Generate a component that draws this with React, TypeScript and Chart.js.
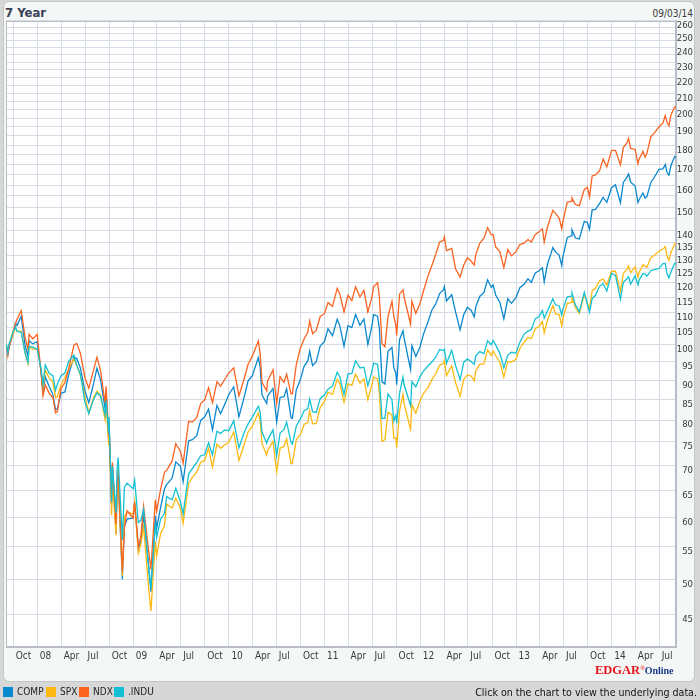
import React, { useEffect, useRef } from 'react';
import { Chart, registerables } from 'chart.js';

Chart.register(...registerables);

// ---------- data (index values, start of period = 100) ----------
const DATES: string[] = [
  '2007-09-04','2007-09-10','2007-09-14','2007-09-28','2007-10-09','2007-10-15','2007-10-31','2007-11-15','2007-11-26','2007-11-30','2007-12-14','2007-12-31',
  '2008-01-15','2008-01-22','2008-01-31','2008-02-15','2008-02-29','2008-03-10','2008-03-17','2008-03-31','2008-04-15','2008-04-30','2008-05-19','2008-05-30','2008-06-13','2008-06-30','2008-07-15','2008-07-31','2008-08-15','2008-08-29','2008-09-15','2008-09-19','2008-09-29','2008-09-30','2008-10-10','2008-10-13','2008-10-27','2008-10-31','2008-11-04','2008-11-20','2008-11-28','2008-12-08','2008-12-31',
  '2009-01-06','2009-01-20','2009-01-30','2009-02-09','2009-02-27','2009-03-09','2009-03-26','2009-03-31','2009-04-15','2009-04-30','2009-05-08','2009-05-29','2009-06-12','2009-06-30','2009-07-10','2009-07-31','2009-08-14','2009-08-31','2009-09-15','2009-09-30','2009-10-15','2009-10-30','2009-11-16','2009-11-30','2009-12-15','2009-12-31',
  '2010-01-19','2010-02-08','2010-02-26','2010-03-15','2010-03-31','2010-04-23','2010-04-30','2010-05-07','2010-05-25','2010-05-28','2010-06-18','2010-07-02','2010-07-15','2010-07-30','2010-08-09','2010-08-26','2010-08-31','2010-09-15','2010-09-30','2010-10-15','2010-10-29','2010-11-05','2010-11-16','2010-11-30','2010-12-15','2010-12-31',
  '2011-01-14','2011-01-31','2011-02-18','2011-02-28','2011-03-16','2011-03-31','2011-04-15','2011-04-29','2011-05-16','2011-05-31','2011-06-15','2011-06-30','2011-07-07','2011-07-22','2011-07-29','2011-08-08','2011-08-19','2011-08-31','2011-09-15','2011-09-22','2011-09-30','2011-10-03','2011-10-14','2011-10-27','2011-10-31','2011-11-25','2011-11-30','2011-12-15','2011-12-30',
  '2012-01-13','2012-01-31','2012-02-15','2012-02-29','2012-03-15','2012-03-30','2012-04-02','2012-04-10','2012-04-30','2012-05-15','2012-06-01','2012-06-15','2012-06-29','2012-07-13','2012-07-25','2012-07-31','2012-08-15','2012-08-31','2012-09-14','2012-09-28','2012-10-05','2012-10-15','2012-10-31','2012-11-15','2012-11-30','2012-12-14','2012-12-31',
  '2013-01-15','2013-01-31','2013-02-15','2013-02-28','2013-03-15','2013-03-28','2013-04-11','2013-04-18','2013-04-30','2013-05-21','2013-05-31','2013-06-14','2013-06-24','2013-06-28','2013-07-15','2013-07-31','2013-08-02','2013-08-15','2013-08-30','2013-09-18','2013-09-30','2013-10-08','2013-10-18','2013-10-31','2013-11-15','2013-11-29','2013-12-13','2013-12-31',
  '2014-01-15','2014-02-03','2014-02-14','2014-02-28','2014-03-06','2014-03-14','2014-03-31','2014-04-11','2014-04-15','2014-04-30','2014-05-08','2014-05-15','2014-05-30','2014-06-13','2014-06-30','2014-07-15','2014-07-24','2014-07-31','2014-08-07','2014-08-15','2014-08-29','2014-09-03',
];

const COMP: number[] = [
  100, 97.3, 98.9, 102.7, 106.5, 105.7, 108.7, 99.6, 96.6, 101.1, 100.2, 100.8,
  91.9, 87.1, 90.8, 88.3, 86.3, 82.5, 82.7, 86.6, 86.9, 91.7, 96.3, 95.9, 93.3, 87.2, 84.2, 88.4, 93.2, 90.0, 82.8, 86.4, 75.4, 79.5, 62.7, 70.1, 57.2, 65.4, 67.7, 50.0, 58.4, 59.7, 59.9,
  62.8, 54.7, 56.1, 60.5, 52.4, 48.2, 60.3, 58.1, 61.8, 65.3, 66.1, 67.4, 70.7, 69.8, 66.7, 75.2, 75.5, 76.4, 79.9, 80.7, 82.6, 77.7, 83.5, 81.5, 83.7, 86.2,
  88.2, 80.8, 85.1, 89.8, 91.2, 96.2, 93.5, 86.1, 84.0, 85.8, 87.8, 79.5, 85.5, 85.7, 87.7, 80.5, 80.4, 87.5, 90.0, 93.8, 95.3, 98.0, 93.9, 95.0, 99.5, 100.8,
  104.7, 102.6, 107.7, 105.7, 99.5, 105.7, 105.1, 109.2, 105.8, 107.8, 100.0, 105.4, 109.2, 108.7, 104.8, 89.6, 89.0, 98.0, 99.1, 93.3, 91.8, 88.8, 101.4, 104.1, 102.0, 92.8, 99.6, 96.5, 99.0,
  103.0, 107.0, 110.8, 112.7, 116.2, 117.5, 118.6, 113.7, 115.8, 110.0, 104.4, 109.2, 111.6, 110.6, 108.5, 111.8, 115.2, 116.6, 121.0, 118.4, 119.2, 115.7, 113.2, 107.8, 114.4, 112.9, 114.8,
  118.2, 119.4, 121.4, 120.1, 123.5, 124.2, 125.4, 120.3, 126.5, 133.1, 131.4, 130.2, 126.2, 129.4, 137.1, 137.8, 140.3, 136.9, 136.5, 143.8, 143.3, 140.5, 148.8, 149.0, 151.5, 154.3, 152.1, 158.8,
  160.2, 151.9, 161.3, 163.8, 165.4, 161.4, 159.6, 152.0, 153.3, 156.4, 154.0, 154.7, 161.3, 163.9, 167.6, 167.9, 170.0, 166.1, 164.8, 169.7, 174.1, 173.8,
];

const SPX: number[] = [
  100, 97.4, 99.6, 102.5, 105.1, 103.9, 104.0, 97.5, 94.5, 99.4, 98.6, 98.6,
  92.7, 88.0, 92.6, 90.6, 89.4, 85.5, 85.7, 88.8, 90.7, 93.1, 95.7, 94.0, 91.3, 85.9, 81.6, 85.1, 87.1, 86.1, 80.1, 84.3, 74.3, 78.3, 60.4, 67.3, 56.9, 65.1, 67.5, 50.5, 60.2, 61.0, 60.6,
  62.8, 54.0, 55.5, 58.4, 49.3, 45.5, 55.9, 53.6, 57.2, 58.6, 62.4, 61.7, 63.5, 61.7, 59.0, 66.3, 67.5, 68.6, 70.6, 71.0, 73.6, 69.6, 74.5, 73.6, 74.3, 74.9,
  77.2, 71.0, 74.1, 77.2, 78.5, 81.7, 79.7, 74.6, 72.1, 73.1, 75.1, 68.6, 73.6, 74.0, 75.7, 70.3, 70.4, 75.5, 76.6, 79.0, 79.4, 82.2, 79.1, 79.2, 83.0, 84.5,
  86.8, 86.3, 90.2, 89.1, 84.3, 89.0, 88.6, 91.6, 89.2, 90.3, 84.9, 88.7, 90.8, 90.3, 86.7, 75.1, 75.5, 81.8, 81.2, 75.8, 75.9, 73.8, 82.2, 86.3, 84.1, 77.8, 83.7, 81.6, 84.5,
  86.5, 88.1, 90.2, 91.7, 94.1, 94.5, 95.3, 91.2, 93.9, 89.3, 85.8, 90.2, 91.4, 91.1, 89.8, 92.6, 94.3, 94.5, 98.4, 96.8, 98.1, 96.7, 94.8, 90.8, 95.1, 94.9, 95.7,
  98.8, 100.6, 102.1, 101.7, 104.8, 105.3, 107.0, 103.5, 107.3, 112.1, 109.5, 109.2, 105.6, 107.8, 112.9, 113.2, 114.8, 111.5, 109.6, 115.8, 112.9, 111.1, 117.2, 118.0, 120.7, 121.3, 119.2, 124.1,
  124.1, 117.0, 123.4, 124.8, 126.0, 123.6, 125.7, 121.9, 123.7, 126.5, 125.9, 125.6, 129.2, 130.1, 131.6, 132.5, 133.5, 129.7, 128.2, 131.3, 134.5, 134.3,
];

const NDX: number[] = [
  100, 96.8, 98.8, 103.3, 106.2, 107.7, 110.5, 102.0, 98.6, 103.0, 101.7, 103.0,
  91.9, 85.9, 88.7, 86.5, 85.5, 81.7, 82.0, 87.9, 89.3, 93.3, 99.8, 100.3, 97.4, 90.7, 87.9, 92.1, 96.3, 92.5, 84.1, 88.4, 76.5, 79.8, 62.7, 70.6, 58.8, 65.9, 69.1, 51.2, 58.3, 61.2, 59.9,
  62.7, 55.1, 56.8, 62.0, 54.8, 51.5, 63.2, 61.1, 65.2, 68.6, 68.9, 70.9, 74.6, 72.9, 70.4, 79.7, 79.5, 80.6, 84.0, 84.9, 88.0, 84.2, 89.6, 88.4, 90.1, 91.9,
  93.3, 85.9, 89.9, 94.3, 96.6, 101.0, 97.3, 89.4, 87.2, 89.7, 92.8, 84.0, 90.9, 89.4, 91.6, 86.4, 86.4, 94.3, 98.8, 101.7, 103.7, 107.2, 103.2, 104.2, 108.6, 109.5,
  113.1, 111.9, 118.0, 116.0, 110.1, 115.6, 113.8, 118.5, 115.1, 117.3, 110.1, 114.8, 118.5, 120.0, 115.1, 100.2, 99.3, 108.6, 113.6, 108.6, 105.7, 102.7, 116.0, 117.5, 115.1, 106.2, 113.6, 109.6, 112.6,
  117.0, 122.5, 126.4, 130.4, 135.3, 136.0, 137.3, 131.9, 132.8, 124.9, 122.0, 126.4, 129.1, 127.9, 126.4, 130.4, 134.8, 136.8, 141.2, 138.3, 138.3, 133.3, 131.4, 125.4, 132.3, 129.9, 131.4,
  134.3, 134.8, 136.3, 135.3, 138.3, 139.3, 140.7, 135.3, 141.2, 148.6, 147.2, 145.2, 140.7, 143.7, 152.1, 152.6, 154.1, 151.1, 150.6, 158.0, 159.0, 154.6, 164.4, 164.9, 166.9, 172.8, 168.9, 177.3,
  177.3, 169.9, 178.8, 181.2, 183.7, 178.3, 177.8, 170.4, 172.8, 176.8, 173.8, 175.8, 184.7, 186.7, 190.1, 192.1, 196.5, 192.6, 190.6, 197.0, 201.5, 201.3,
];

const INDU: number[] = [
  100, 97.6, 99.9, 103.3, 105.3, 104.0, 103.6, 97.5, 94.8, 99.4, 99.2, 98.6,
  93.0, 89.0, 94.1, 91.8, 91.2, 87.3, 89.0, 91.2, 91.9, 95.3, 96.9, 94.0, 91.5, 84.4, 81.5, 84.6, 86.7, 85.8, 81.2, 84.7, 77.1, 80.7, 62.8, 69.8, 60.8, 69.3, 71.6, 56.2, 65.6, 66.4, 65.3,
  67.0, 59.1, 59.5, 61.5, 52.5, 48.7, 58.9, 56.6, 59.7, 60.7, 63.8, 63.2, 65.4, 62.8, 60.6, 68.2, 69.3, 70.6, 72.0, 72.2, 74.8, 72.2, 77.4, 76.9, 77.7, 77.5,
  79.8, 73.7, 76.8, 79.1, 80.7, 83.3, 81.9, 77.2, 74.7, 75.4, 77.7, 72.0, 77.0, 77.8, 79.5, 74.8, 74.5, 78.6, 80.2, 82.3, 82.7, 85.1, 82.0, 81.8, 85.2, 86.1,
  87.6, 88.4, 92.1, 90.9, 86.3, 91.6, 91.8, 95.3, 93.3, 93.5, 88.5, 92.3, 94.6, 94.3, 90.3, 80.4, 80.4, 86.4, 85.0, 79.8, 81.1, 79.2, 86.6, 90.8, 88.9, 83.5, 89.6, 88.2, 90.8,
  92.4, 93.9, 95.0, 96.3, 98.5, 98.2, 98.6, 94.6, 98.3, 93.9, 90.1, 94.9, 95.8, 95.0, 94.3, 96.7, 97.9, 97.3, 101.1, 99.9, 101.2, 99.8, 97.4, 93.3, 96.9, 97.7, 97.4,
  100.6, 103.1, 104.0, 104.5, 107.9, 108.4, 110.5, 108.1, 110.3, 114.4, 112.4, 112.1, 109.0, 110.9, 115.1, 115.3, 116.4, 112.4, 110.1, 116.6, 112.5, 109.9, 114.5, 115.6, 118.7, 119.6, 117.1, 123.3,
  122.6, 114.3, 120.1, 121.4, 122.1, 119.5, 122.4, 119.2, 120.9, 123.3, 123.1, 122.3, 124.3, 124.7, 125.1, 126.9, 127.0, 123.2, 121.7, 123.9, 127.1, 127.0,
];

const SERIES_NAMES = ['COMP', 'SPX', 'NDX', '.INDU'];
const SERIES_COLORS = ['#0a88cf', '#fdb913', '#fb6321', '#12c1d3'];

const X_TICK_DATES: string[] = [
  '2007-10-01','2008-01-01','2008-04-01','2008-07-01','2008-10-01','2009-01-01','2009-04-01','2009-07-01',
  '2009-10-01','2010-01-01','2010-04-01','2010-07-01','2010-10-01','2011-01-01','2011-04-01','2011-07-01',
  '2011-10-01','2012-01-01','2012-04-01','2012-07-01','2012-10-01','2013-01-01','2013-04-01','2013-07-01',
  '2013-10-01','2014-01-01','2014-04-01','2014-07-01',
];
const X_TICK_LABELS: string[] = [
  'Oct','08','Apr','Jul','Oct','09','Apr','Jul','Oct','10','Apr','Jul','Oct','11','Apr','Jul',
  'Oct','12','Apr','Jul','Oct','13','Apr','Jul','Oct','14','Apr','Jul',
];
const X_START = '2007-09-03';
const X_END = '2014-09-03';

const Y_GRID: number[] = [
  45, 50, 55, 60, 65, 70, 75, 80, 85, 90, 95, 100, 105, 110, 115, 120, 125, 130, 135, 140, 145, 150,
  155, 160, 165, 170, 175, 180, 185, 190, 195, 200, 205, 210, 215, 220, 225, 230, 235, 240, 245, 250, 255, 260,
];
const Y_LABELS: number[] = [
  45, 50, 55, 60, 65, 70, 75, 80, 85, 90, 95, 100, 105, 110, 115, 120, 125, 130, 135, 140,
  150, 160, 170, 180, 190, 200, 210, 220, 230, 240, 250, 260,
];
const Y_MIN = 40.9;
const Y_MAX = 260;

// ---------- helpers ----------
const dayNum = (s: string): number => {
  const [y, m, d] = s.split('-').map(Number);
  const [y0, m0, d0] = X_START.split('-').map(Number);
  return Math.round((Date.UTC(y, m - 1, d) - Date.UTC(y0, m0 - 1, d0)) / 86400000);
};

const NARROW = '"Liberation Sans Narrow", "DejaVu Sans Condensed", "Liberation Sans", sans-serif';
const GRID_COLOR = '#d8dce4';
const BORDER_COLOR = '#b7bcc5';

const framePlugin = {
  id: 'frame',
  beforeDraw(chart: any) {
    const { ctx, chartArea: a } = chart;
    ctx.save();
    ctx.fillStyle = '#ffffff';
    ctx.fillRect(a.left, a.top, a.right - a.left, a.bottom - a.top);
    ctx.restore();
  },
  beforeDatasetsDraw(chart: any) {
    const { ctx, chartArea: a } = chart;
    ctx.save();
    ctx.strokeStyle = BORDER_COLOR;
    ctx.lineWidth = 1;
    const l = Math.round(a.left) + 0.5;
    const t = Math.round(a.top) + 0.5;
    const r = Math.round(a.right) - 0.5;
    const b = Math.round(a.bottom) - 0.5;
    ctx.strokeRect(l, t, r - l, b - t);
    ctx.restore();
  },
};

function PriceChart() {
  const ref = useRef<HTMLCanvasElement | null>(null);

  useEffect(() => {
    if (!ref.current) return;
    const seriesValues = [COMP, SPX, NDX, INDU];
    const orders = [3, 2, 1, 0];
    const chart = new Chart(ref.current, {
      type: 'line',
      data: {
        datasets: seriesValues.map((vals, k) => ({
          label: SERIES_NAMES[k],
          data: DATES.map((d, i) => ({ x: dayNum(d), y: vals[i] })),
          borderColor: SERIES_COLORS[k],
          backgroundColor: SERIES_COLORS[k],
          borderWidth: 1.3,
          pointRadius: 0,
          pointHoverRadius: 0,
          tension: 0,
          fill: false,
          order: orders[k],
        })),
      },
      options: {
        animation: false,
        responsive: false,
        maintainAspectRatio: false,
        layout: { padding: { left: 6, top: 20.7, right: 7, bottom: 0 } },
        plugins: {
          legend: { display: false },
          tooltip: { enabled: false },
        },
        scales: {
          x: {
            type: 'linear',
            position: 'bottom',
            min: 0,
            max: dayNum(X_END),
            afterBuildTicks: (s: any) => {
              s.ticks = X_TICK_DATES.map((d) => ({ value: dayNum(d) }));
            },
            afterFit: (s: any) => {
              s.height = 52.7;
            },
            grid: { color: GRID_COLOR, lineWidth: 1, drawTicks: false },
            border: { display: true, color: BORDER_COLOR },
            ticks: {
              autoSkip: false,
              maxRotation: 0,
              minRotation: 0,
              align: 'start',
              labelOffset: 2.4,
              padding: 3,
              color: '#3a3a3a',
              font: { family: NARROW, size: 10 },
              callback: (_v: any, i: number) => X_TICK_LABELS[i],
            },
          },
          y: {
            type: 'logarithmic',
            position: 'right',
            min: Y_MIN,
            max: Y_MAX,
            afterBuildTicks: (s: any) => {
              s.ticks = Y_GRID.map((v) => ({ value: v }));
            },
            afterFit: (s: any) => {
              s.width = 17;
            },
            grid: { color: GRID_COLOR, lineWidth: 1, drawTicks: false },
            border: { display: true, color: BORDER_COLOR },
            ticks: {
              autoSkip: false,
              crossAlign: 'far',
              labelOffset: 5,
              padding: 0,
              color: '#3a3a3a',
              font: { family: NARROW, size: 9.5 },
              callback: (v: any) => (Y_LABELS.includes(Number(v)) ? String(v) : ''),
            },
          },
        },
      } as any,
      plugins: [framePlugin],
    });
    return () => chart.destroy();
  }, []);

  return (
    <canvas
      ref={ref}
      width={700}
      height={700}
      style={{ position: 'absolute', left: 0, top: 0, width: 700, height: 700 }}
    />
  );
}

export default function App() {
  const legendX = [3, 46, 79, 114];
  return (
    <div
      style={{
        position: 'absolute',
        left: 0,
        top: 0,
        width: 700,
        height: 700,
        background: '#d7d7d7',
        overflow: 'hidden',
        fontFamily: NARROW,
      }}
    >
      <div
        style={{
          position: 'absolute',
          left: 3,
          top: 1,
          width: 690,
          height: 679,
          background: '#f3f7f6',
          border: '1px solid #c3c7c7',
          borderRadius: 6,
        }}
      />
      <div
        style={{
          position: 'absolute',
          left: 5,
          top: 5,
          fontFamily: '"DejaVu Sans Condensed", "Liberation Sans Narrow", sans-serif',
          fontWeight: 'bold',
          fontSize: 13,
          lineHeight: '15px',
          color: '#3a4056',
          whiteSpace: 'nowrap',
        }}
      >
        7 Year
      </div>
      <div
        style={{
          position: 'absolute',
          right: 7,
          top: 8,
          fontSize: 10,
          lineHeight: '12px',
          color: '#3a3a3a',
          whiteSpace: 'nowrap',
        }}
      >
        09/03/14
      </div>
      <PriceChart />
      <div
        style={{
          position: 'absolute',
          left: 595,
          top: 661,
          whiteSpace: 'nowrap',
          fontFamily: '"Liberation Serif", "DejaVu Serif", serif',
          fontWeight: 'bold',
          lineHeight: '15px',
        }}
      >
        <span style={{ color: '#e3141b', fontSize: 12.5 }}>EDGAR</span>
        <span style={{ color: '#e3141b', fontSize: 6, verticalAlign: 'top' }}>®</span>
        <span style={{ color: '#1d3a8a', fontSize: 10 }}>Online</span>
      </div>
      {SERIES_NAMES.map((name, k) => (
        <div
          key={name}
          style={{
            position: 'absolute',
            left: legendX[k],
            top: 687,
            height: 10,
            display: 'flex',
            alignItems: 'center',
            whiteSpace: 'nowrap',
          }}
        >
          <span
            style={{
              display: 'inline-block',
              width: 10,
              height: 10,
              background: SERIES_COLORS[k],
              marginRight: 4,
            }}
          />
          <span style={{ fontSize: 10, color: '#222', lineHeight: '10px' }}>{name}</span>
        </div>
      ))}
      <div
        style={{
          position: 'absolute',
          right: 3,
          top: 686,
          fontSize: 10.6,
          lineHeight: '12px',
          color: '#111',
          whiteSpace: 'nowrap',
        }}
      >
        Click on the chart to view the underlying data.
      </div>
    </div>
  );
}
